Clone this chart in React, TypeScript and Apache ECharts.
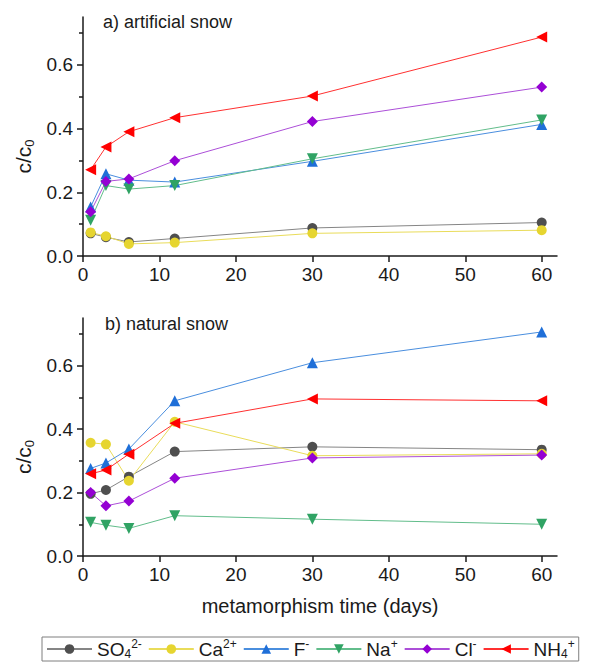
import React, { useEffect, useRef } from "react";
import * as echarts from "echarts";

// ---- data ----
const DAYS = [1, 3, 6, 12, 30, 60];
const X_TICKS = [0, 10, 20, 30, 40, 50, 60];
const Y_TICKS = [0, 0.2, 0.4, 0.6];
const Y_MINOR = [0.1, 0.3, 0.5, 0.7];

const ION_NAMES = ["SO₄²⁻", "Ca²⁺", "F⁻", "Na⁺", "Cl⁻", "NH₄⁺"];
const ION_LABELS = [
  "{n|SO}{sub|4}{sup|2-}",
  "{n|Ca}{sup|2+}",
  "{n|F}{sup|-}",
  "{n|Na}{sup|+}",
  "{n|Cl}{sup|-}",
  "{n|NH}{sub|4}{sup|+}",
];

// a) artificial snow
const SO4_A = [0.071, 0.059, 0.044, 0.055, 0.088, 0.105];
const CA_A = [0.074, 0.062, 0.038, 0.042, 0.071, 0.081];
const F_A = [0.154, 0.258, 0.238, 0.232, 0.297, 0.413];
const NA_A = [0.112, 0.221, 0.210, 0.221, 0.305, 0.427];
const CL_A = [0.139, 0.234, 0.242, 0.299, 0.422, 0.530];
const NH4_A = [0.271, 0.342, 0.390, 0.434, 0.502, 0.687];

// b) natural snow
const SO4_N = [0.196, 0.208, 0.250, 0.329, 0.344, 0.335];
const CA_N = [0.357, 0.352, 0.237, 0.423, 0.316, 0.322];
const F_N = [0.276, 0.293, 0.337, 0.489, 0.609, 0.706];
const NA_N = [0.106, 0.097, 0.087, 0.127, 0.116, 0.100];
const CL_N = [0.200, 0.158, 0.173, 0.245, 0.309, 0.318];
const NH4_N = [0.259, 0.271, 0.321, 0.418, 0.495, 0.489];

const SERIES_A = [SO4_A, CA_A, F_A, NA_A, CL_A, NH4_A];
const SERIES_N = [SO4_N, CA_N, F_N, NA_N, CL_N, NH4_N];

const MARKER_COLORS = ["#4f4f4f", "#e6d530", "#1f6fd8", "#30a364", "#9400d3", "#ff0000"];
const LINE_COLORS = ["#858585", "#e9dc5a", "#4a8ede", "#62bd8b", "#ac4fd8", "#ff3030"];
const SYMBOLS = ["circle", "circle", "triangle", "triangle", "diamond", "triangle"];
const SYMBOL_ROTATE = [0, 0, 0, 180, 0, 90];
const SYMBOL_SIZE = [10, 10, 11, 11, 11, 11];

const FONT = '"Liberation Sans", Arial, Helvetica, sans-serif';
const TEXT = "#1a1a1a";

const richText = (size: number, lh: number) => ({
  n: { fontFamily: FONT, fontSize: size, color: TEXT, lineHeight: lh },
  sub: { fontFamily: FONT, fontSize: Math.round(size * 0.63), color: TEXT, lineHeight: 12, verticalAlign: "bottom" },
  sup: { fontFamily: FONT, fontSize: Math.round(size * 0.63), color: TEXT, lineHeight: 12, verticalAlign: "top" },
});

export default function App() {
  const ref = useRef<HTMLDivElement>(null);

  useEffect(() => {
    document.body.style.margin = "0";
    const chart = echarts.init(ref.current!, undefined, { renderer: "svg" });

    const grids = [
      { left: 83, top: 17, width: 474, height: 239 },
      { left: 83, top: 318, width: 474, height: 238 },
    ];

    const xAxes = grids.map((_, i) => ({
      type: "value",
      gridIndex: i,
      min: 0,
      max: 62,
      name: i === 1 ? "metamorphism time (days)" : "",
      nameLocation: "middle",
      nameGap: 40,
      nameTextStyle: { fontFamily: FONT, fontSize: 20, color: TEXT },
      axisLine: { show: true, onZero: false, lineStyle: { color: "#1a1a1a", width: 1.5 } },
      axisTick: { show: true, inside: false, length: 6, customValues: X_TICKS, lineStyle: { color: "#1a1a1a", width: 1.5 } },
      axisLabel: { customValues: X_TICKS, fontFamily: FONT, fontSize: 19, color: TEXT, margin: 9 },
      splitLine: { show: false },
    }));

    const yAxes: any[] = [];
    grids.forEach((_, i) => {
      yAxes.push({
        type: "value",
        gridIndex: i,
        position: "left",
        min: 0,
        max: 0.75,
        name: "{n|c/c}{sub|0}",
        nameLocation: "middle",
        nameGap: 46,
        nameTextStyle: { rich: richText(21, 24), padding: [0, 40, 0, 0] },
        axisLine: { show: true, onZero: false, lineStyle: { color: "#1a1a1a", width: 1.5 } },
        axisTick: { show: true, inside: false, length: 6, customValues: Y_TICKS, lineStyle: { color: "#1a1a1a", width: 1.5 } },
        axisLabel: {
          customValues: Y_TICKS,
          fontFamily: FONT,
          fontSize: 19,
          color: TEXT,
          margin: 10,
          formatter: (v: number) => v.toFixed(1),
        },
        splitLine: { show: false },
      });
    });
    grids.forEach((_, i) => {
      yAxes.push({
        type: "value",
        gridIndex: i,
        position: "left",
        offset: 0,
        min: 0,
        max: 0.75,
        axisLine: { show: false },
        axisTick: { show: true, inside: false, length: 4, customValues: Y_MINOR, lineStyle: { color: "#1a1a1a", width: 1.5 } },
        axisLabel: { show: false },
        splitLine: { show: false },
      });
    });

    const series: any[] = [];
    [SERIES_A, SERIES_N].forEach((set, gi) => {
      set.forEach((vals, k) => {
        series.push({
          type: "line",
          name: ION_NAMES[k],
          xAxisIndex: gi,
          yAxisIndex: gi,
          data: DAYS.map((d, j) => [d, vals[j]]),
          symbol: SYMBOLS[k],
          symbolRotate: SYMBOL_ROTATE[k],
          symbolSize: SYMBOL_SIZE[k],
          showSymbol: true,
          itemStyle: { color: MARKER_COLORS[k] },
          lineStyle: { color: LINE_COLORS[k], width: 1 },
          emphasis: { disabled: true },
        });
      });
    });

    const labelMap: Record<string, string> = {};
    ION_NAMES.forEach((n, k) => (labelMap[n] = ION_LABELS[k]));

    chart.setOption({
      animation: false,
      backgroundColor: "#ffffff",
      title: [
        { text: "a) artificial snow", left: 103, top: 13, padding: 0, textStyle: { fontFamily: FONT, fontSize: 18, fontWeight: "normal", color: TEXT } },
        { text: "b) natural snow", left: 105, top: 315, padding: 0, textStyle: { fontFamily: FONT, fontSize: 18, fontWeight: "normal", color: TEXT } },
      ],
      grid: grids.map((g) => ({ ...g, containLabel: false, outerBoundsMode: "none" })),
      xAxis: xAxes,
      yAxis: yAxes,
      legend: {
        data: ION_NAMES,
        left: 42,
        top: 637,
        width: 545,
        orient: "horizontal",
        padding: [1, 4, 1, 4],
        itemGap: 6,
        itemWidth: 45,
        itemHeight: 12,
        borderColor: "#7f7f7f",
        borderWidth: 1,
        selectedMode: false,
        formatter: (name: string) => labelMap[name] || name,
        textStyle: { fontFamily: FONT, fontSize: 19, color: TEXT, rich: richText(19, 22) },
      },
      series,
    });

    return () => chart.dispose();
  }, []);

  return (
    <div
      ref={ref}
      style={{ position: "absolute", left: 0, top: 0, width: 589, height: 668, background: "#fff" }}
    />
  );
}
